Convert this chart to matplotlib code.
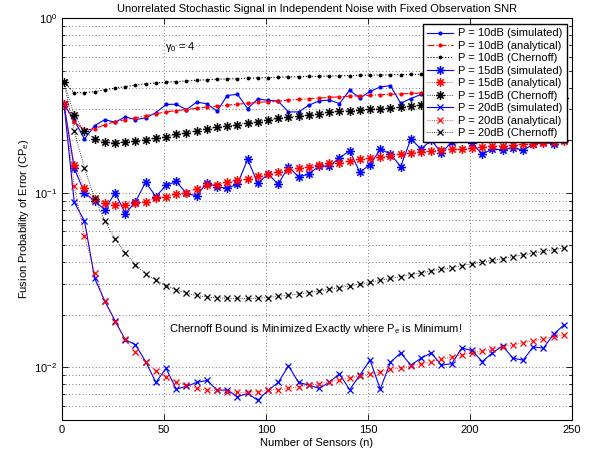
import matplotlib
matplotlib.use('Agg')
import matplotlib.pyplot as plt
from matplotlib.path import Path
from matplotlib.ticker import LogLocator, FixedLocator, NullFormatter, LogFormatterMathtext

plt.rcParams['font.family'] = ['Liberation Sans', 'DejaVu Sans']
plt.rcParams['mathtext.fontset'] = 'custom'
plt.rcParams['mathtext.rm'] = 'Liberation Sans'
plt.rcParams['mathtext.it'] = 'Liberation Sans:italic'
plt.rcParams['mathtext.default'] = 'rm'

# ---------------- data ----------------
sensors = [1, 6, 11, 16, 21, 26, 31, 36, 41, 46, 51, 56, 61, 66, 71, 76, 81, 86, 91, 96,
           101, 106, 111, 116, 121, 126, 131, 136, 141, 146, 151, 156, 161, 166, 171, 176,
           181, 186, 191, 196, 201, 206, 211, 216, 221, 226, 231, 236, 241, 246]

sim10 = [0.32, 0.26, 0.203, 0.242, 0.262, 0.253, 0.272, 0.262, 0.268, 0.287,
         0.32, 0.321, 0.299, 0.33, 0.323, 0.293, 0.36, 0.366, 0.303, 0.344,
         0.338, 0.334, 0.29, 0.29, 0.317, 0.335, 0.339, 0.324, 0.386, 0.348,
         0.38, 0.403, 0.41, 0.325, 0.346, 0.365, 0.36, 0.38, 0.35, 0.37,
         0.39, 0.36, 0.37, 0.38, 0.35, 0.39, 0.37, 0.38, 0.36, 0.39]
ana10 = [0.32, 0.255, 0.228, 0.232, 0.245, 0.255, 0.262, 0.268, 0.276, 0.283,
         0.290, 0.295, 0.299, 0.305, 0.309, 0.313, 0.317, 0.321, 0.325, 0.329,
         0.332, 0.335, 0.339, 0.342, 0.345, 0.348, 0.351, 0.354, 0.357, 0.359,
         0.361, 0.364, 0.366, 0.368, 0.370, 0.372, 0.374, 0.376, 0.378, 0.380,
         0.382, 0.384, 0.386, 0.387, 0.389, 0.390, 0.392, 0.393, 0.395, 0.396]
cher10 = [0.43, 0.373, 0.374, 0.379, 0.388, 0.396, 0.405, 0.413, 0.420, 0.425,
          0.429, 0.433, 0.436, 0.440, 0.443, 0.446, 0.448, 0.450, 0.452, 0.454,
          0.456, 0.458, 0.460, 0.461, 0.463, 0.464, 0.466, 0.467, 0.468, 0.470,
          0.471, 0.472, 0.473, 0.474, 0.475, 0.476, 0.477, 0.478, 0.479, 0.480,
          0.481, 0.482, 0.483, 0.484, 0.485, 0.486, 0.487, 0.488, 0.489, 0.490]

sim15 = [0.32, 0.138, 0.100, 0.0895, 0.080, 0.100, 0.076, 0.0885, 0.115, 0.095,
         0.110, 0.116, 0.099, 0.096, 0.114, 0.108, 0.106, 0.112, 0.155, 0.113,
         0.128, 0.112, 0.141, 0.123, 0.128, 0.142, 0.142, 0.158, 0.174, 0.131,
         0.145, 0.177, 0.167, 0.141, 0.203, 0.178, 0.200, 0.169, 0.195, 0.205,
         0.192, 0.166, 0.178, 0.176, 0.181, 0.175, 0.189, 0.195, 0.190, 0.200]
ana15 = [0.32, 0.145, 0.107, 0.092, 0.087, 0.0855, 0.0855, 0.087, 0.089, 0.093,
         0.095, 0.098, 0.100, 0.105, 0.110, 0.111, 0.115, 0.118, 0.120, 0.1245,
         0.128, 0.131, 0.135, 0.138, 0.141, 0.144, 0.147, 0.148, 0.152, 0.155,
         0.157, 0.160, 0.163, 0.166, 0.169, 0.171, 0.173, 0.175, 0.177, 0.178,
         0.181, 0.183, 0.185, 0.186, 0.187, 0.189, 0.191, 0.193, 0.195, 0.197]
cher15 = [0.43, 0.277, 0.225, 0.203, 0.1946, 0.193, 0.1946, 0.198, 0.2015, 0.205,
          0.209, 0.2155, 0.220, 0.227, 0.233, 0.237, 0.240, 0.2455, 0.251, 0.255,
          0.261, 0.266, 0.272, 0.274, 0.280, 0.284, 0.289, 0.292, 0.295, 0.298,
          0.300, 0.303, 0.306, 0.309, 0.313, 0.316, 0.319, 0.322, 0.325, 0.328,
          0.330, 0.333, 0.335, 0.338, 0.340, 0.342, 0.344, 0.346, 0.348, 0.350]

sim20 = [0.32, 0.088, 0.069, 0.0324, 0.0239, 0.0185, 0.0144, 0.0135, 0.0108, 0.0082,
         0.00987, 0.00752, 0.00779, 0.0082, 0.00843, 0.00742, 0.00742, 0.0068, 0.0071, 0.00648,
         0.00739, 0.0082, 0.0102, 0.0082, 0.00792, 0.00759, 0.0082, 0.00919, 0.00745, 0.00904,
         0.0110, 0.00752, 0.0107, 0.0121, 0.0103, 0.0113, 0.0121, 0.0103, 0.0105, 0.0129,
         0.0125, 0.0108, 0.0121, 0.0133, 0.0113, 0.0110, 0.0131, 0.0129, 0.0155, 0.0175]
ana20 = [0.32, 0.109, 0.0565, 0.0347, 0.0239, 0.0183, 0.0145, 0.0122, 0.0107, 0.00957,
         0.00881, 0.00824, 0.00792, 0.00759, 0.0074, 0.0074, 0.00726, 0.0072, 0.0072, 0.00726,
         0.00739, 0.00745, 0.00759, 0.00775, 0.00792, 0.00806, 0.00827, 0.00846, 0.00869, 0.00895,
         0.00916, 0.0094, 0.00975, 0.00991, 0.0102, 0.0105, 0.0108, 0.0111, 0.0115, 0.0118,
         0.0121, 0.0124, 0.0128, 0.0131, 0.0135, 0.0138, 0.0142, 0.0146, 0.0150, 0.0153]
cher20 = [0.43, 0.226, 0.138, 0.093, 0.069, 0.0546, 0.0452, 0.0388, 0.0344, 0.0315,
          0.0293, 0.0278, 0.0266, 0.0258, 0.0253, 0.0250, 0.0249, 0.0248, 0.0248, 0.0249,
          0.0251, 0.0255, 0.0259, 0.0263, 0.0268, 0.0274, 0.0280, 0.0286, 0.0293, 0.0299,
          0.0307, 0.0315, 0.0323, 0.0331, 0.0340, 0.0347, 0.0357, 0.0365, 0.0373, 0.0383,
          0.0391, 0.0401, 0.0410, 0.0419, 0.0431, 0.0440, 0.0452, 0.0462, 0.0472, 0.0482]

labels = ['P = 10dB (simulated)', 'P = 10dB (analytical)', 'P = 10dB (Chernoff)',
          'P = 15dB (simulated)', 'P = 15dB (analytical)', 'P = 15dB (Chernoff)',
          'P = 20dB (simulated)', 'P = 20dB (analytical)', 'P = 20dB (Chernoff)']

xticks = [0, 50, 100, 150, 200, 250]

# ---------------- figure ----------------
# MATLAB-style asterisk marker
ast = Path([(-1, 0), (1, 0), (0, -1), (0, 1), (-0.707, -0.707), (0.707, 0.707),
            (-0.707, 0.707), (0.707, -0.707)],
           [Path.MOVETO, Path.LINETO] * 4)

fig = plt.figure(figsize=(5.94, 4.57), dpi=100)
ax = fig.add_axes([62 / 594, 37 / 457, 510 / 594, 402 / 457])

ax.plot(sensors, sim10, color='b', ls='-', lw=0.8, marker='.', ms=4, label=labels[0])
ax.plot(sensors, ana10, color='r', ls='-.', lw=0.8, marker='.', ms=4, label=labels[1])
ax.plot(sensors, cher10, color='k', ls=':', lw=0.8, marker='.', ms=3.5, label=labels[2])
ax.plot(sensors, sim15, color='b', ls='-', lw=0.8, marker=ast, ms=6.5, mew=1.1,
        mec='b', mfc='none', label=labels[3])
ax.plot(sensors, ana15, color='r', ls=':', lw=0.6, marker=ast, ms=6.5, mew=1.1,
        mec='r', mfc='none', label=labels[4])
ax.plot(sensors, cher15, color='k', ls=':', lw=0.6, marker=ast, ms=6.5, mew=1.1,
        mec='k', mfc='none', label=labels[5])
ax.plot(sensors, sim20, color='b', ls='-', lw=0.8, marker='x', ms=4.5, mew=0.9, label=labels[6])
ax.plot(sensors, ana20, color='r', ls=':', lw=0.6, marker='x', ms=4.5, mew=0.9, label=labels[7])
ax.plot(sensors, cher20, color='k', ls=':', lw=0.6, marker='x', ms=4.5, mew=0.9, label=labels[8])

ax.set_yscale('log')
ax.set_xlim(0, 250)
ax.set_ylim(0.005, 1)
ax.xaxis.set_major_locator(FixedLocator(xticks))
ax.yaxis.set_major_locator(LogLocator(base=10, numticks=10))
ax.yaxis.set_minor_locator(LogLocator(base=10, subs=range(2, 10), numticks=20))
ax.yaxis.set_major_formatter(LogFormatterMathtext())
ax.yaxis.set_minor_formatter(NullFormatter())

grid_kw = dict(ls=(0, (1, 3)), color='0.3', lw=0.6)
ax.grid(True, which='major', **grid_kw)
ax.grid(True, which='minor', axis='y', **grid_kw)
ax.tick_params(which='both', direction='in', top=True, right=True, labelsize=8)
ax.tick_params(which='major', length=4, width=0.6)
ax.tick_params(which='minor', length=2.5, width=0.6)
for s in ax.spines.values():
    s.set_linewidth(0.8)

ax.set_title('Unorrelated Stochastic Signal in Independent Noise with Fixed Observation SNR',
             fontsize=8, pad=4)
ax.set_xlabel('Number of Sensors (n)', fontsize=8, labelpad=2)
ax.set_ylabel('Fusion Probability of Error (CP$_e$)', fontsize=8, labelpad=2)

ax.text(50.3, 0.686, 'γ$_0$ = 4', fontsize=8, va='center', ha='left')
ax.text(52.4, 0.0166, 'Chernoff Bound is Minimized Exactly where P$_e$ is Minimum!',
        fontsize=8, va='center', ha='left')

leg = ax.legend(loc='upper right', bbox_to_anchor=(0.990, 0.985), borderaxespad=0,
                fontsize=8, labelspacing=0.22, handlelength=2.3, handletextpad=0.5,
                borderpad=0.4, fancybox=False, framealpha=1, edgecolor='k')
leg.get_frame().set_linewidth(1.0)

fig.savefig('out.png', dpi=100)
